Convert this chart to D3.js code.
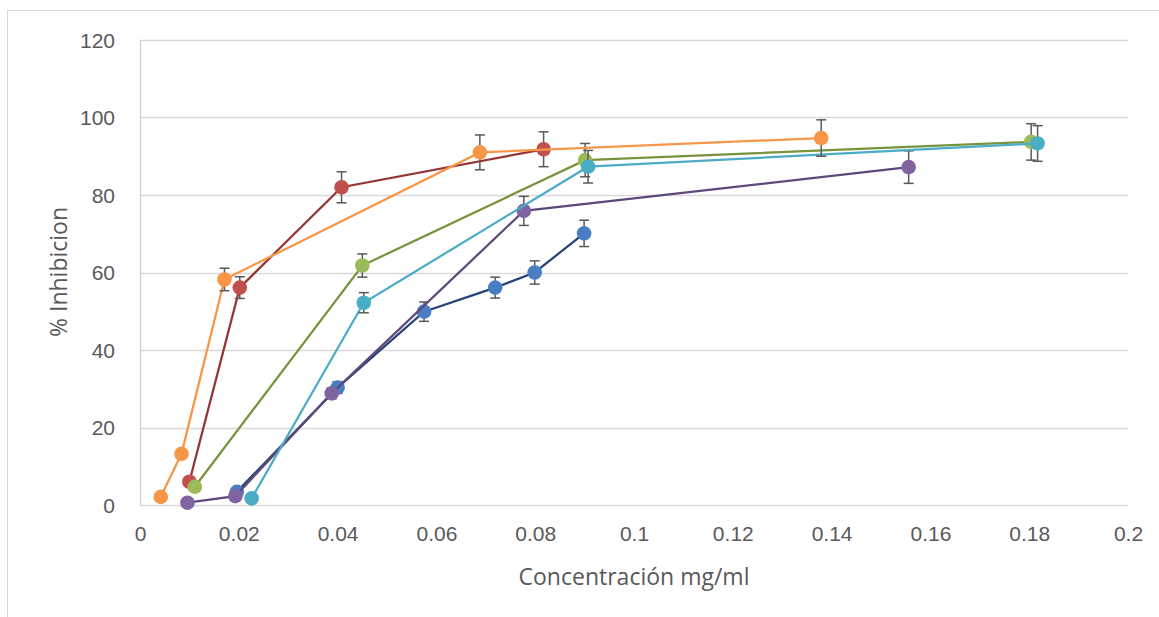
<!DOCTYPE html>
<html>
<head>
<meta charset="utf-8">
<script src="https://cdn.jsdelivr.net/npm/d3@7"></script>
<style>
  body { margin: 0; background: #fff; }
  svg { font-family: "Open Sans", sans-serif; }
</style>
</head>
<body>
<script>
// concentration (mg/ml), % inhibition, error (+/-)
const blueX = [0.0196, 0.0400, 0.0575, 0.0719, 0.0799, 0.0899];
const blueY = [3.4, 30.3, 49.9, 56.1, 60.0, 70.1];
const blueE = [0.8, 1.5, 2.5, 2.7, 3.0, 3.4];

const redX = [0.0100, 0.0202, 0.0408, 0.0817];
const redY = [6.0, 56.1, 82.0, 91.8];
const redE = [0.8, 2.8, 4.0, 4.5];

const greenX = [0.0111, 0.0450, 0.0901, 0.1804];
const greenY = [4.7, 61.8, 89.0, 93.7];
const greenE = [0.6, 3.0, 4.3, 4.7];

const purpleX = [0.0096, 0.0193, 0.0388, 0.0777, 0.1556];
const purpleY = [0.6, 2.3, 28.8, 75.9, 87.2];
const purpleE = [0.2, 0.5, 1.4, 3.75, 4.2];

const cyanX = [0.0226, 0.0453, 0.0907, 0.1817];
const cyanY = [1.7, 52.2, 87.3, 93.3];
const cyanE = [0.3, 2.6, 4.2, 4.6];

const orangeX = [0.0042, 0.0084, 0.0171, 0.0688, 0.1379];
const orangeY = [2.1, 13.2, 58.2, 91.0, 94.7];
const orangeE = [0.2, 0.7, 2.9, 4.5, 4.7];

const xTicks = [0, 0.02, 0.04, 0.06, 0.08, 0.1, 0.12, 0.14, 0.16, 0.18, 0.2];
const yTicks = [0, 20, 40, 60, 80, 100, 120];

const series = [
  { xs: blueX, ys: blueY, es: blueE, line: '#264478', fill: '#4A7EC4' },
  { xs: redX, ys: redY, es: redE, line: '#943634', fill: '#C0504D' },
  { xs: greenX, ys: greenY, es: greenE, line: '#77933C', fill: '#9BBB59' },
  { xs: purpleX, ys: purpleY, es: purpleE, line: '#5F497A', fill: '#8064A2' },
  { xs: cyanX, ys: cyanY, es: cyanE, line: '#4BACC6', fill: '#4BACC6' },
  { xs: orangeX, ys: orangeY, es: orangeE, line: '#F79646', fill: '#F79646' }
];

const width = 1159, height = 617;
const svg = d3.select('body').append('svg')
  .attr('width', width)
  .attr('height', height);

// chart border
svg.append('rect')
  .attr('x', 7.5).attr('y', 10.5)
  .attr('width', 1160).attr('height', 620)
  .attr('fill', 'none').attr('stroke', '#d9d9d9');

const x = d3.scaleLinear().domain([0, 0.2]).range([140, 1128]);
const y = d3.scaleLinear().domain([0, 120]).range([505, 40]);

// gridlines
svg.append('g')
  .selectAll('line')
  .data(yTicks)
  .enter().append('line')
  .attr('x1', x(0)).attr('x2', x(0.2))
  .attr('y1', d => Math.round(y(d)) + 0.5).attr('y2', d => Math.round(y(d)) + 0.5)
  .attr('stroke', '#d9d9d9').attr('stroke-width', 1.3);

svg.append('line')
  .attr('x1', x(0) + 0.5).attr('x2', x(0) + 0.5)
  .attr('y1', y(120)).attr('y2', y(0))
  .attr('stroke', '#d0d0d0').attr('stroke-width', 1.3);

// axes
const yAxis = svg.append('g')
  .attr('transform', 'translate(' + (x(0) - 22) + ',0)')
  .call(d3.axisLeft(y).tickValues(yTicks).tickSize(0).tickFormat(d3.format('d')));
yAxis.select('.domain').remove();
yAxis.selectAll('text')
  .style('font-size', '21px').attr('fill', '#595959').attr('dy', '0.35em');

const xAxis = svg.append('g')
  .attr('transform', 'translate(0,' + (y(0) + 18) + ')')
  .call(d3.axisBottom(x).tickValues(xTicks).tickSize(0).tickFormat(d => String(+d.toFixed(2))));
xAxis.select('.domain').remove();
xAxis.selectAll('text')
  .style('font-size', '21px').attr('fill', '#595959');

svg.append('text')
  .attr('x', 634).attr('y', 585)
  .attr('text-anchor', 'middle')
  .style('font-size', '23px').attr('fill', '#595959')
  .text('Concentración mg/ml');

svg.append('text')
  .attr('transform', 'translate(67,272)rotate(-90)')
  .attr('text-anchor', 'middle')
  .style('font-size', '23px').attr('fill', '#595959')
  .text('% Inhibicion');

const lineGen = d3.line().x(d => x(d[0])).y(d => y(d[1]));

series.forEach(s => {
  const pts = s.xs.map((v, i) => [v, s.ys[i], s.es[i]]);
  const g = svg.append('g');

  g.append('path')
    .datum(pts)
    .attr('d', lineGen)
    .attr('fill', 'none')
    .attr('stroke', s.line)
    .attr('stroke-width', 2.25);

  const eb = g.selectAll('.err')
    .data(pts)
    .enter().append('g');
  eb.append('line')
    .attr('x1', d => x(d[0])).attr('x2', d => x(d[0]))
    .attr('y1', d => y(d[1] + d[2])).attr('y2', d => y(d[1] - d[2]))
    .attr('stroke', '#595959').attr('stroke-width', 1.5);
  eb.append('line')
    .attr('x1', d => x(d[0]) - 5).attr('x2', d => x(d[0]) + 5)
    .attr('y1', d => y(d[1] + d[2])).attr('y2', d => y(d[1] + d[2]))
    .attr('stroke', '#595959').attr('stroke-width', 1.5);
  eb.append('line')
    .attr('x1', d => x(d[0]) - 5).attr('x2', d => x(d[0]) + 5)
    .attr('y1', d => y(d[1] - d[2])).attr('y2', d => y(d[1] - d[2]))
    .attr('stroke', '#595959').attr('stroke-width', 1.5);

  g.selectAll('circle')
    .data(pts)
    .enter().append('circle')
    .attr('cx', d => x(d[0]))
    .attr('cy', d => y(d[1]))
    .attr('r', 7.3)
    .attr('fill', s.fill);
});
</script>
</body>
</html>
